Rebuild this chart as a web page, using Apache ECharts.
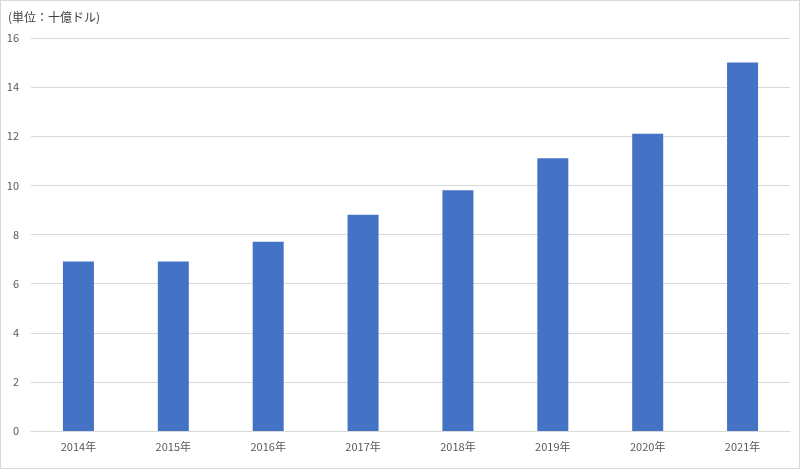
<!DOCTYPE html>
<html><head><meta charset="utf-8">
<script src="https://cdn.jsdelivr.net/npm/echarts@6/dist/echarts.min.js"></script>
<style>html,body{margin:0;padding:0;background:#fff}#c{width:800px;height:469px;box-sizing:border-box;border:1px solid #d9d9d9}</style>
</head><body><div id="c"></div>
<script>
const categories = ['2014年','2015年','2016年','2017年','2018年','2019年','2020年','2021年'];
const values = [6.9, 6.9, 7.7, 8.8, 9.8, 11.1, 12.1, 15.0];
const unitLabel = '(単位：十億ドル)';
const chart = echarts.init(document.getElementById('c'));
chart.setOption({
  animation:false,
  textStyle:{fontFamily:'"Noto Sans CJK JP", "Noto Sans", sans-serif'},
  title:{text:unitLabel,left:2,top:5,textStyle:{fontSize:12,fontWeight:'normal',color:'#404040'}},
  grid:{left:30,right:9,top:37,bottom:37},
  xAxis:{type:'category',data:categories,axisTick:{show:false},
    axisLine:{lineStyle:{color:'#d9d9d9'}},axisLabel:{color:'#595959',fontSize:11,margin:10}},
  yAxis:{type:'value',min:0,max:16,interval:2,
    axisLabel:{color:'#595959',fontSize:11,margin:12},
    splitLine:{lineStyle:{color:'#d9d9d9'}}},
  series:[{type:'bar',data:values,barWidth:31,itemStyle:{color:'#4472c4'}}]
});
</script></body></html>
